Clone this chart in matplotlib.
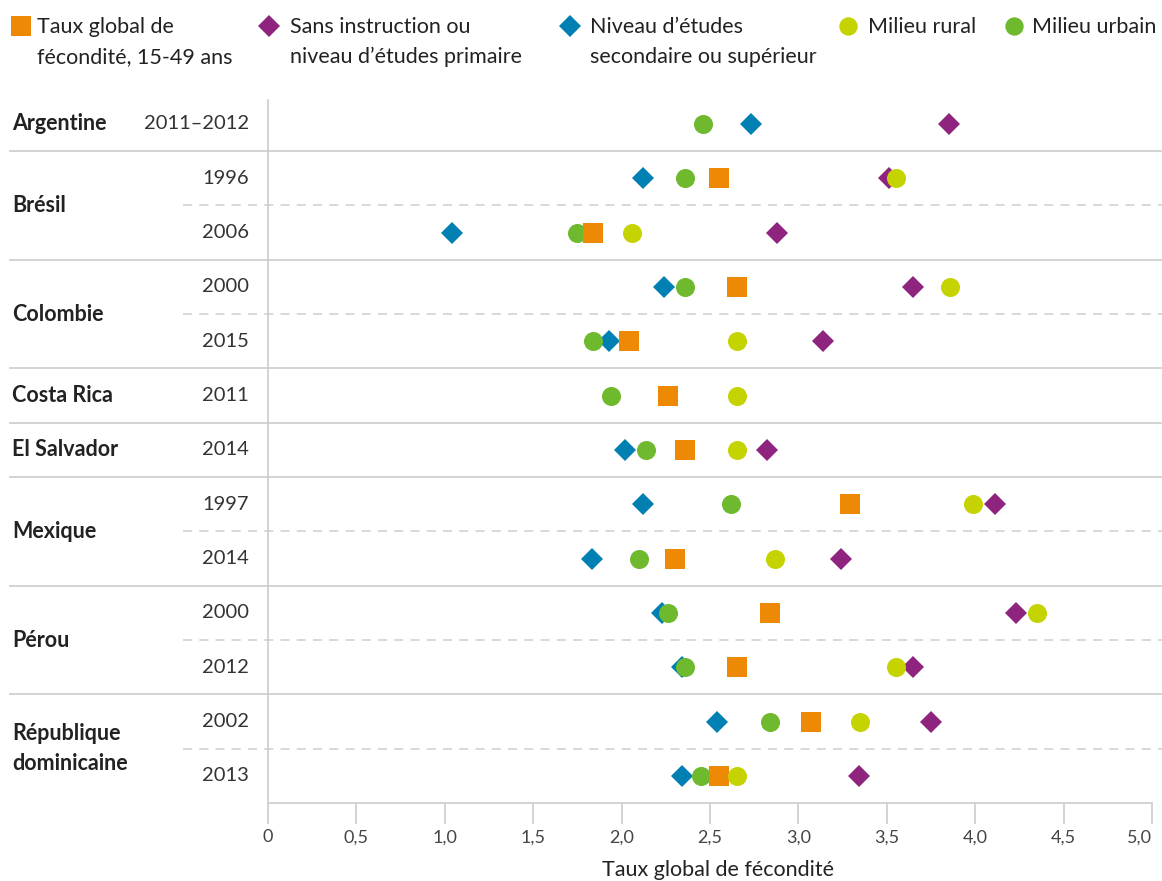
import matplotlib.pyplot as plt
from matplotlib.lines import Line2D
from matplotlib.transforms import blended_transform_factory

plt.rcParams["font.family"] = ["Lato", "DejaVu Sans"]

# one row per survey, top to bottom
countries = ["Argentine", "Brésil", "Brésil", "Colombie", "Colombie", "Costa Rica",
             "El Salvador", "Mexique", "Mexique", "Pérou", "Pérou",
             "République\ndominicaine", "République\ndominicaine"]
years = ["2011–2012", "1996", "2006", "2000", "2015", "2011", "2014",
         "1997", "2014", "2000", "2012", "2002", "2013"]

tgf = [None, 2.55, 1.84, 2.65, 2.04, 2.26, 2.36, 3.29, 2.30, 2.84, 2.65, 3.07, 2.55]
sans_instruction = [3.85, 3.51, 2.88, 3.65, 3.14, None, 2.82, 4.11, 3.24, 4.23, 3.65, 3.75, 3.34]
secondaire = [2.73, 2.12, 1.04, 2.24, 1.93, None, 2.02, 2.12, 1.83, 2.23, 2.34, 2.54, 2.34]
urbain = [2.46, 2.36, 1.75, 2.36, 1.84, 1.94, 2.14, 2.62, 2.10, 2.26, 2.36, 2.84, 2.45]
rural = [None, 3.55, 2.06, 3.86, 2.65, 2.65, 2.65, 3.99, 2.87, 4.35, 3.55, 3.35, 2.65]

ORANGE = "#EE8905"
PURPLE = "#8E247E"
BLUE = "#007FB2"
LIME = "#C5D300"
GREEN = "#6FB92E"
GRID = "#cccccc"
TEXT = "#222222"

fig = plt.figure(figsize=(11.62, 8.81), dpi=100)
ax = fig.add_axes([268 / 1162, 1 - 803 / 881, (1152 - 268) / 1162, 703 / 881])

rows = list(range(len(years)))


def scatter_series(values, marker, color, size):
    ys = [r for r, v in zip(rows, values) if v is not None]
    xs = [v for v in values if v is not None]
    ax.plot(xs, ys, linestyle="none", marker=marker, color=color, markersize=size,
            markeredgewidth=0, clip_on=False, zorder=3)


scatter_series(sans_instruction, "D", PURPLE, 11.2)
scatter_series(secondaire, "D", BLUE, 11.2)
scatter_series(urbain, "o", GREEN, 13.7)
scatter_series(tgf, "s", ORANGE, 13.7)
scatter_series(rural, "o", LIME, 13.7)

ax.set_xlim(0, 5)
ax.set_ylim(12.5, -0.44)

# separators: solid between countries, dashed between years of one country
trans = blended_transform_factory(fig.transFigure, ax.transData)
for i in range(len(rows) - 1):
    y = i + 0.5
    if countries[i] == countries[i + 1]:
        ax.plot([183 / 1162, 1], [y, y], transform=trans, color="#d6d6d6", lw=1.3,
                linestyle=(0, (5, 4)), clip_on=False, zorder=1)
    else:
        ax.plot([10 / 1162, 1], [y, y], transform=trans, color=GRID, lw=1.2,
                clip_on=False, zorder=1)

# row labels
for r, yr in zip(rows, years):
    ax.text(249 / 1162, r, yr, transform=trans, ha="right", va="center",
            fontsize=14.5, color="#333333")
seen = []
for c in countries:
    if c in seen:
        continue
    seen.append(c)
    idx = [r for r in rows if countries[r] == c]
    ax.text(12 / 1162, sum(idx) / len(idx), c, transform=trans, ha="left",
            va="center", fontsize=15.5, fontweight="bold", color=TEXT,
            linespacing=1.55)

for side in ["top", "right"]:
    ax.spines[side].set_visible(False)
ax.spines["left"].set_color(GRID)
ax.spines["bottom"].set_color(GRID)
ax.spines["left"].set_linewidth(1.2)
ax.spines["bottom"].set_linewidth(1.2)
ax.set_yticks([])
ticks = [0, 0.5, 1, 1.5, 2, 2.5, 3, 3.5, 4, 4.5, 5]
ax.set_xticks(ticks)
ax.set_xticklabels(["0"] + [f"{t:.1f}".replace(".", ",") for t in ticks[1:]],
                   fontsize=13, color="#444444")
ax.tick_params(axis="x", length=15, width=1.2, color=GRID, pad=4)
ax.get_xticklabels()[-1].set_horizontalalignment("right")
ax.set_xlabel("Taux global de fécondité", fontsize=15.5, color=TEXT)
ax.xaxis.set_label_coords((718 - 268) / 884, (803 - 860) / 703)

# legend drawn by hand along the top
legend_items = [
    (21, "s", ORANGE, 13.7, 37, ["Taux global de", "fécondité, 15-49 ans"]),
    (269, "D", PURPLE, 11.6, 290, ["Sans instruction ou", "niveau d’études primaire"]),
    (570, "D", BLUE, 11.6, 590, ["Niveau d’études", "secondaire ou supérieur"]),
    (848, "o", LIME, 13.2, 868, ["Milieu rural"]),
    (1014, "o", GREEN, 13.2, 1032, ["Milieu urbain"]),
]
for mx, marker, color, size, tx, lines in legend_items:
    fig.add_artist(Line2D([mx / 1162], [1 - 26 / 881], marker=marker, color=color,
                          markersize=size, markeredgewidth=0, linestyle="none",
                          transform=fig.transFigure))
    for k, line in enumerate(lines):
        fig.text(tx / 1162, 1 - (27 + 30 * k) / 881, line, ha="left", va="center",
                 fontsize=15.5, color=TEXT)

fig.savefig("out.png", dpi=100)
